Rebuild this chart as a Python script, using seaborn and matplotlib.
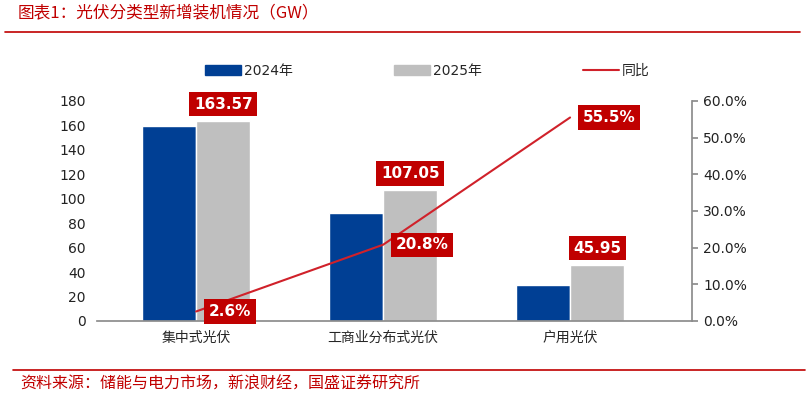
import numpy as np
import pandas as pd
import matplotlib
matplotlib.use("Agg")
import matplotlib.pyplot as plt
import matplotlib.ticker as mticker
from matplotlib.patches import Patch
from matplotlib.lines import Line2D
import seaborn as sns

# data
categories = ["集中式光伏", "工商业分布式光伏", "户用光伏"]
years = ["2024年", "2025年"]
cap_2024 = [159.4, 88.6, 29.5]
cap_2025 = [163.57, 107.05, 45.95]
yoy = [2.6, 20.8, 55.5]  # %

BLUE = "#003F94"
GREY = "#BFBFBF"
RED = "#C00000"
LINE_RED = "#D0212A"

sns.set_theme(style="white")
plt.rcParams["font.family"] = ["DejaVu Sans", "Noto Sans CJK SC"]

df = pd.DataFrame({
    "category": categories * 2,
    "year": [years[0]] * 3 + [years[1]] * 3,
    "value": cap_2024 + cap_2025,
})

fig = plt.figure(figsize=(8.11, 3.97), dpi=100)
ax = fig.add_axes([97 / 811, 1 - 321 / 397, 595 / 811, 220 / 397])

sns.barplot(data=df, x="category", y="value", hue="year", order=categories,
            hue_order=years, palette=[BLUE, GREY], width=0.58, gap=0,
            saturation=1, ax=ax, legend=False)
ax.set_xlim(-0.53, 2.652)
ax.set_ylim(0, 180)
ax.set_yticks(np.arange(0, 181, 20))
ax.set_xlabel("")
ax.set_ylabel("")
for s in ["top", "right", "left"]:
    ax.spines[s].set_visible(False)
ax.spines["bottom"].set_color("#8C8C8C")
ax.tick_params(axis="y", length=0, labelsize=10, colors="#222222", pad=8)
ax.tick_params(axis="x", which="major", length=0, labelsize=10, pad=7)
ax.set_xticks([0.5, 1.5], minor=True)
ax.tick_params(axis="x", which="minor", direction="in", length=4, color="#555555")
for t in ax.get_xticklabels():
    t.set_family(["Noto Sans CJK SC", "DejaVu Sans"])

# value labels for 2025 bars
for i, v in enumerate(cap_2025):
    ax.annotate(f"{v:.2f}", xy=(i + 0.145, v), xytext=(0, 12),
                textcoords="offset points", ha="center", va="center",
                fontsize=11, fontweight="bold", color="white",
                bbox=dict(boxstyle="square,pad=0.3", fc=RED, ec="none"))

ax2 = ax.twinx()
sns.lineplot(x=np.arange(len(categories)), y=yoy, color=LINE_RED, lw=1.5, ax=ax2)
ax2.set_ylim(0, 60)
ax2.set_yticks(np.arange(0, 61, 10))
ax2.yaxis.set_major_formatter(mticker.FuncFormatter(lambda v, p: f"{v:.1f}%"))
for s in ["top", "left", "bottom"]:
    ax2.spines[s].set_visible(False)
ax2.spines["right"].set_color("#8C8C8C")
ax2.tick_params(axis="y", length=4, direction="out", color="#8C8C8C",
                labelsize=10, labelcolor="#222222", pad=4)

for i, v in enumerate(yoy):
    ax2.annotate(f"{v}%", xy=(i, v), xytext=(9, 0), textcoords="offset points",
                 ha="left", va="center", fontsize=11, fontweight="bold",
                 color="white",
                 bbox=dict(boxstyle="square,pad=0.3", fc=RED, ec="none"))

handles = [Patch(color=BLUE, label=years[0]), Patch(color=GREY, label=years[1]),
           Line2D([], [], color=LINE_RED, lw=1.5, label="同比")]
fig.legend(handles=handles, loc="center", bbox_to_anchor=(0.527, 1 - 71 / 397),
           ncol=3, frameon=False, handlelength=2.6,
           handleheight=0.8, handletextpad=0.2, columnspacing=7.3,
           prop={"family": ["DejaVu Sans", "Noto Sans CJK SC"], "size": 10})

# header and footer
fig.text(18 / 811, 1 - 14 / 397, "图表1：光伏分类型新增装机情况（GW）", color=RED,
         fontsize=12, va="center", ha="left",
         family=["Noto Sans CJK SC", "DejaVu Sans"])
fig.add_artist(Line2D([5 / 811, 800 / 811], [1 - 32 / 397] * 2, color=RED, lw=1.2))
fig.add_artist(Line2D([13 / 811, 805 / 811], [1 - 370 / 397] * 2, color=RED, lw=1.2))
fig.text(20 / 811, 1 - 384 / 397, "资料来源：储能与电力市场，新浪财经，国盛证券研究所",
         color=RED, fontsize=11.5, va="center", ha="left",
         family=["Noto Sans CJK SC", "DejaVu Sans"])

fig.savefig("out.png", dpi=100)
